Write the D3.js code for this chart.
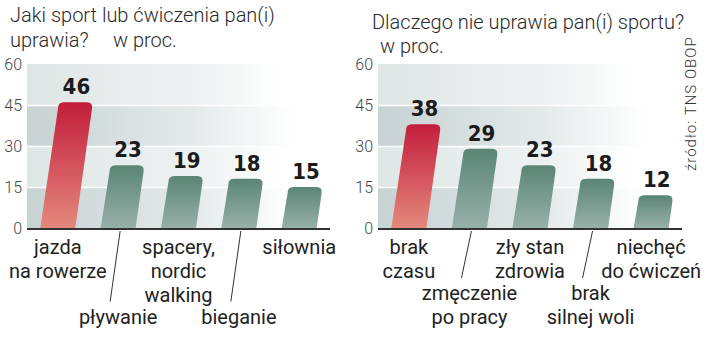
<!DOCTYPE html>
<html>
<head>
<meta charset="utf-8">
<script src="https://cdn.jsdelivr.net/npm/d3@7/dist/d3.min.js"></script>
<style>
  body { margin: 0; background: #fff; }
  svg { display: block; font-family: Roboto, "Noto Sans", sans-serif; }
</style>
</head>
<body>
<div id="chart"></div>
<script>
// ---- data ----
const sportCategories = [["jazda", "na rowerze"], ["pływanie"], ["spacery,", "nordic", "walking"], ["bieganie"], ["siłownia"]];
const sportValues = [46, 23, 19, 18, 15];

const reasonCategories = [["brak", "czasu"], ["zmęczenie", "po pracy"], ["zły stan", "zdrowia"], ["brak", "silnej woli"], ["niechęć", "do ćwiczeń"]];
const reasonValues = [38, 29, 23, 18, 12];

const yTicks = [0, 15, 30, 45, 60];

const width = 720, height = 352;

const svg = d3.select("#chart")
  .append("svg")
    .attr("width", width)
    .attr("height", height);

/*************/
/* gradients */
/*************/
const defs = svg.append("defs");

const addGradient = (id, vertical, stops) => {
  const g = defs.append("linearGradient")
    .attr("id", id)
    .attr("x1", 0).attr("y1", 0)
    .attr("x2", vertical ? 0 : 1).attr("y2", vertical ? 1 : 0);
  g.selectAll("stop")
    .data(stops)
    .join("stop")
      .attr("offset", d => d[0])
      .attr("stop-color", d => d[1]);
};
addGradient("bandDark", false, [[0, "#c7d2d2"], [0.55, "#e4eaea"], [0.88, "#ffffff"]]);
addGradient("bandLight", false, [[0, "#dfe6e6"], [0.55, "#edf1f1"], [0.85, "#ffffff"]]);
addGradient("barRed", true, [[0, "#c31d3b"], [1, "#e3887c"]]);
addGradient("barGreen", true, [[0, "#5a8575"], [1, "#98b0a9"]]);

/****************/
/* bar function */
/****************/
const yScale = d3.scaleLinear()
  .domain([0, 60])
  .range([228, 64]);

const slantRatio = 0.14;

const barPath = (x0, w, yTop, yBottom) => {
  const h = yBottom - yTop;
  const s = h * slantRatio;
  const r = Math.min(6, h / 2);
  const p = d3.path();
  p.moveTo(x0, yBottom);
  p.lineTo(x0 + w, yBottom);
  p.lineTo(x0 + w + s - r * slantRatio, yTop + r);
  p.quadraticCurveTo(x0 + w + s, yTop, x0 + w + s - r, yTop);
  p.lineTo(x0 + s + r, yTop);
  p.quadraticCurveTo(x0 + s, yTop, x0 + s + r * slantRatio * 0.2, yTop + r);
  p.closePath();
  return p.toString();
};

const drawChart = (cfg) => {
  const g = svg.append("g");

  const xScale = d3.scaleBand()
    .domain(cfg.categories.map((d, i) => i))
    .range([cfg.left, cfg.right])
    .paddingInner(0.42)
    .paddingOuter(0.22);

  // background bands
  const bands = d3.pairs(yTicks);
  g.append("g")
    .selectAll("rect")
    .data(bands)
    .join("rect")
      .attr("x", cfg.left)
      .attr("y", d => yScale(d[1]))
      .attr("width", cfg.right - cfg.left)
      .attr("height", d => yScale(d[0]) - yScale(d[1]))
      .attr("fill", (d, i) => i % 2 === 0 ? "url(#bandDark)" : "url(#bandLight)");

  // gridlines + tick labels
  const axis = g.append("g")
    .attr("transform", `translate(${cfg.left},0)`)
    .call(d3.axisLeft(yScale)
      .tickValues(yTicks)
      .tickSize(-(cfg.right - cfg.left))
      .tickPadding(5));
  axis.select(".domain").remove();
  axis.selectAll(".tick line")
    .attr("stroke", "#fff")
    .attr("stroke-width", 1.5)
    .attr("opacity", d => d === 0 || d === 60 ? 0 : 1);
  axis.selectAll(".tick text")
    .attr("fill", "#444")
    .attr("font-family", "Roboto, sans-serif")
    .attr("font-weight", 300)
    .attr("font-size", 16);

  // bars
  const bw = xScale.bandwidth();
  g.append("g")
    .selectAll("path")
    .data(cfg.values)
    .join("path")
      .attr("d", (d, i) => barPath(xScale(i), bw, yScale(d), yScale(0)))
      .attr("fill", (d, i) => i === 0 ? "url(#barRed)" : "url(#barGreen)");

  // value labels
  g.append("g")
    .selectAll("text")
    .data(cfg.values)
    .join("text")
      .attr("x", (d, i) => xScale(i) + bw / 2 + (yScale(0) - yScale(d)) * slantRatio + 1)
      .attr("y", d => yScale(d) - 8)
      .attr("text-anchor", "middle")
      .attr("font-family", "'DejaVu Sans Condensed', 'DejaVu Sans', sans-serif")
      .attr("font-weight", "bold")
      .attr("font-size", 22)
      .attr("fill", "#1b1b1b")
      .text(d => d);

  // baseline
  g.append("line")
    .attr("x1", cfg.left).attr("x2", cfg.right)
    .attr("y1", yScale(0) + 1).attr("y2", yScale(0) + 1)
    .attr("stroke", "#333")
    .attr("stroke-width", 2);

  // category labels (odd ones lowered with a leader line)
  const lineH = 24;
  const maxUpper = d3.max(cfg.categories.filter((d, i) => i % 2 === 0), d => d.length);
  const leaderEnd = yScale(0) + 3 + maxUpper * (lineH - 0.5);

  const labels = g.append("g")
    .selectAll("text")
    .data(cfg.categories)
    .join("text")
      .attr("text-anchor", "middle")
      .attr("font-size", 20)
      .attr("fill", "#222")
      .attr("transform", (d, i) => {
        const cx = xScale(i) + bw / 2;
        const y0 = i % 2 === 0 ? 254 : leaderEnd + 22;
        return `translate(${cx},${y0})`;
      });
  labels.selectAll("tspan")
    .data(d => d)
    .join("tspan")
      .attr("x", 0)
      .attr("y", (d, j) => j * lineH)
      .text(d => d);

  g.append("g")
    .selectAll("line")
    .data(cfg.categories.map((d, i) => i).filter(i => i % 2 === 1))
    .join("line")
      .attr("x1", i => xScale(i) + bw / 2 + 2)
      .attr("x2", i => xScale(i) + bw / 2 - 8)
      .attr("y1", yScale(0) + 3)
      .attr("y2", leaderEnd)
      .attr("stroke", "#333")
      .attr("stroke-width", 1);

  // titles
  const titles = g.append("g")
    .attr("font-size", 20)
    .attr("font-weight", 300)
    .attr("fill", "#2a2a2a");
  cfg.title.forEach(t => {
    titles.append("text")
      .attr("x", t.x)
      .attr("y", t.y)
      .text(t.text);
  });
};

drawChart({
  categories: sportCategories,
  values: sportValues,
  left: 27,
  right: 330,
  title: [
    { text: "Jaki sport lub ćwiczenia pan(i)", x: 10, y: 22 },
    { text: "uprawia?", x: 10, y: 47 },
    { text: "w proc.", x: 113, y: 47 }
  ]
});

drawChart({
  categories: reasonCategories,
  values: reasonValues,
  left: 378,
  right: 682,
  title: [
    { text: "Dlaczego nie uprawia pan(i) sportu?", x: 372, y: 29 },
    { text: "w proc.", x: 380, y: 53 }
  ]
});

// source
svg.append("text")
  .attr("transform", "translate(696,171) rotate(-90)")
  .attr("font-size", 15)
  .attr("font-weight", 300)
  .attr("letter-spacing", 1)
  .attr("fill", "#333")
  .text("źródło: TNS OBOP");
</script>
</body>
</html>
